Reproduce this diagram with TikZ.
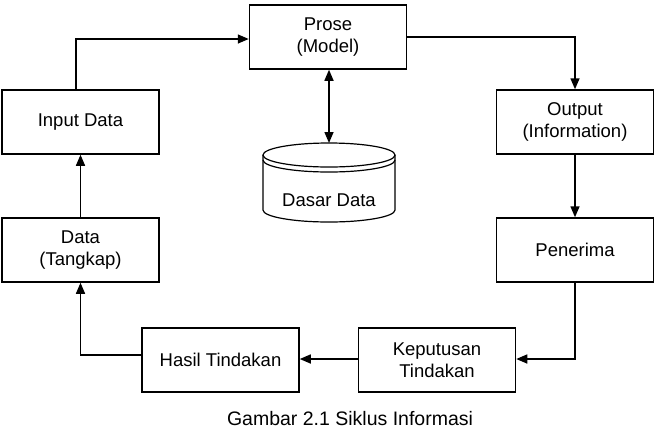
\documentclass[tikz,border=0pt]{standalone}
\usepackage{fontspec}
\setmainfont{Liberation Sans}
\usetikzlibrary{arrows.meta}
\begin{document}
\begin{tikzpicture}[x=1pt,y=-1pt,
  box/.style={draw,line width=1.5pt,minimum width=157pt,minimum height=64pt,align=center,inner sep=0pt,
    font=\fontsize{18.5}{22}\selectfont},
  conn/.style={line width=1.5pt,-{Triangle[length=11pt,width=9pt]}},
  conn2/.style={line width=1.5pt,{Triangle[length=11pt,width=9pt]}-{Triangle[length=11pt,width=9pt]}}]
\useasboundingbox (0,0) rectangle (658,432);
\node[box] (input) at (80.5,122) {Input Data};
\node[box] (prose) at (328,37) {Prose\\(Model)};
\node[box] (output) at (575,122) {Output\\(Information)};
\node[box] (penerima) at (575,250) {Penerima};
\node[box] (data) at (80.5,250) {Data\\(Tangkap)};
\node[box] (hasil) at (220.5,360) {Hasil Tindakan};
\node[box] (keputusan) at (437,360) {Keputusan\\Tindakan};
% database cylinder
\draw[line width=1.2pt,fill=white] (263,155) -- (263,210) arc[start angle=180,end angle=360,x radius=66pt,y radius=12pt] -- (395,155);
\draw[line width=1.2pt] (329,155) ellipse[x radius=66pt,y radius=12pt];
\draw[line width=1.2pt] (263,160) arc[start angle=180,end angle=360,x radius=66pt,y radius=12pt];
\coordinate (dbtop) at (329,143);
\node[font=\fontsize{18.5}{22}\selectfont] (db) at (329,200) {Dasar Data};
% connectors
\draw[conn] ([xshift=-4.5pt]input.north) |- ([yshift=-2pt]prose.west);
\draw[conn] (prose.east) -| (output.north);
\draw[conn] (output.south) -- (penerima.north);
\draw[conn] (penerima.south) |- ([yshift=1pt]keputusan.east);
\draw[conn] ([yshift=1pt]keputusan.west) -- ([yshift=1pt]hasil.east);
\draw[conn] ([yshift=5pt]hasil.west) -| (data.south);
\draw[conn] (data.north) -- (input.south);
\draw[conn2] ([xshift=1pt]prose.south) -- (dbtop);
\node[font=\fontsize{19.5}{23}\selectfont] (cap) at (350,419) {Gambar 2.1 Siklus Informasi};
\end{tikzpicture}
\end{document}
